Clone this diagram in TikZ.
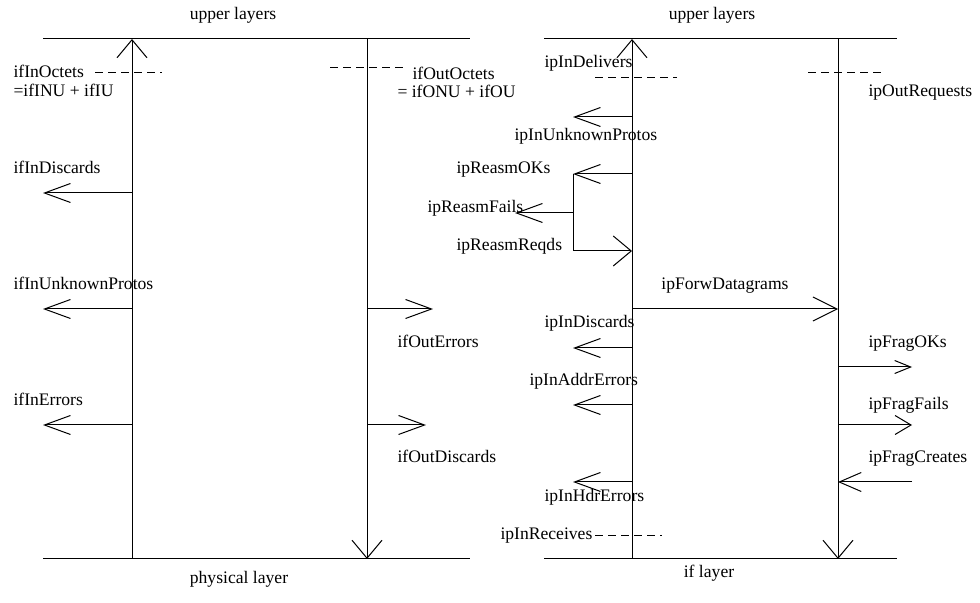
\documentclass[tikz,border=0pt]{standalone}
\usepackage{fontspec}
\setmainfont{Liberation Serif}
\usetikzlibrary{arrows.meta}

\begin{document}
\begin{tikzpicture}[
        x=0.5pt, y=-0.5pt,
        line width=0.5pt,
        font=\fontsize{8.8}{10}\selectfont,
        % Styles
        flow/.style={
            -{Straight Barb[length=9pt,width=15pt]}
          },
        counter/.style={
            -{Straight Barb[length=13pt,width=9.5pt]}
          },
        probe/.style={
            dash pattern=on 4pt off 2.5pt
          },
        lbl/.style={
            anchor=base west,
            inner sep=0pt
          },
        title/.style={
            anchor=base,
            inner sep=0pt
          }
      ]
      \useasboundingbox (0,0) rectangle (980,603);

      % Interface layer (left)
      \coordinate (ifTopL) at (43,39);
      \coordinate (ifTopR) at (470,39);
      \coordinate (ifBotL) at (43,559);
      \coordinate (ifBotR) at (470,559);
      \coordinate (ifInTop) at (132,39);
      \coordinate (ifInBot) at (132,559);
      \coordinate (ifOutTop) at (367,39);
      \coordinate (ifOutBot) at (367,559);

      \draw (ifTopL) -- (ifTopR);
      \draw (ifBotL) -- (ifBotR);
      \draw[flow] (ifInBot) -- (ifInTop);
      \draw[flow] (ifOutTop) -- (ifOutBot);

      \node[title] (ifUpper) at (233,20) {upper layers};
      \node[title] (ifPhys) at (239,584) {physical layer};

      % Counters leaving the input path
      \foreach \name/\y in {ifInDisc/193, ifInUnk/309, ifInErr/425} {
          \coordinate (\name-s) at (132,\y);
          \coordinate (\name-e) at (43,\y);
          \draw[counter] (\name-s) -- (\name-e);
        }
      % Counters leaving the output path
      \foreach \name/\y/\x in {ifOutErr/309/433, ifOutDisc/425/426} {
          \coordinate (\name-s) at (367,\y);
          \coordinate (\name-e) at (\x,\y);
          \draw[counter] (\name-s) -- (\name-e);
        }

      % Octet probes
      \coordinate (ifInOctA) at (95,73);
      \coordinate (ifInOctB) at (162,73);
      \coordinate (ifOutOctA) at (330,68);
      \coordinate (ifOutOctB) at (403,68);
      \draw[probe] (ifInOctA) -- (ifInOctB);
      \draw[probe] (ifOutOctA) -- (ifOutOctB);

      \node[lbl] (ifInOctets) at (13,78) {ifInOctets};
      \node[lbl] (ifInSum) at (13,97) {=ifINU + ifIU};
      \node[lbl] (ifOutOctets) at (412,80) {ifOutOctets};
      \node[lbl] (ifOutSum) at (397,98) {= ifONU + ifOU};
      \node[lbl] (ifInDiscards) at (13,174) {ifInDiscards};
      \node[lbl] (ifInUnknownProtos) at (13,290) {ifInUnknownProtos};
      \node[lbl] (ifInErrors) at (13,406) {ifInErrors};
      \node[lbl] (ifOutErrors) at (397,348) {ifOutErrors};
      \node[lbl] (ifOutDiscards) at (397,463) {ifOutDiscards};

      % IP layer (right)
      \coordinate (ipTopL) at (544,39);
      \coordinate (ipTopR) at (897,39);
      \coordinate (ipBotL) at (544,559);
      \coordinate (ipBotR) at (897,559);
      \coordinate (ipInTop) at (632,39);
      \coordinate (ipInBot) at (632,559);
      \coordinate (ipOutTop) at (838,39);
      \coordinate (ipOutBot) at (838,559);

      \draw (ipTopL) -- (ipTopR);
      \draw (ipBotL) -- (ipBotR);
      \draw[flow] (ipInBot) -- (ipInTop);
      \draw[flow] (ipOutTop) -- (ipOutBot);

      \node[title] (ipUpper) at (712,20) {upper layers};
      \node[title] (ipIfLayer) at (709,578) {if layer};

      % Counters leaving the input path
      \foreach \name/\y in {ipInUnk/117, ipReasmOK/174, ipInDisc/348, ipInAddr/405, ipInHdr/482} {
          \coordinate (\name-s) at (632,\y);
          \coordinate (\name-e) at (573,\y);
          \draw[counter] (\name-s) -- (\name-e);
        }

      % Reassembly
      \coordinate (ipReasmReq) at (573,251);
      \coordinate (ipReasmJoin) at (573,213);
      \coordinate (ipReasmReq-e) at (632,251);
      \coordinate (ipReasmFail-e) at (515,213);
      \draw (ipReasmOK-e) -- (ipReasmReq);
      \draw[flow] (ipReasmReq) -- (ipReasmReq-e);
      \draw[counter] (ipReasmJoin) -- (ipReasmFail-e);

      % Forwarding
      \coordinate (ipForw-s) at (632,309);
      \coordinate (ipForw-e) at (838,309);
      \draw[-{Straight Barb[length=12pt,width=12pt]}] (ipForw-s) -- (ipForw-e);

      % Fragmentation
      \coordinate (ipFragOK-s) at (838,367);
      \coordinate (ipFragOK-e) at (912,367);
      \coordinate (ipFragFail-s) at (838,425);
      \coordinate (ipFragFail-e) at (912,425);
      \coordinate (ipFragCre-s) at (912,482);
      \coordinate (ipFragCre-e) at (838,482);
      \draw[-{Straight Barb[length=8pt,width=6.5pt]}] (ipFragOK-s) -- (ipFragOK-e);
      \draw[-{Straight Barb[length=8pt,width=9.5pt]}] (ipFragFail-s) -- (ipFragFail-e);
      \draw[-{Straight Barb[length=11pt,width=9.5pt]}] (ipFragCre-s) -- (ipFragCre-e);

      % Probes
      \coordinate (ipDelA) at (595,78);
      \coordinate (ipDelB) at (677,78);
      \coordinate (ipReqA) at (808,73);
      \coordinate (ipReqB) at (882,73);
      \coordinate (ipRecA) at (595,536);
      \coordinate (ipRecB) at (662,536);
      \draw[probe] (ipDelA) -- (ipDelB);
      \draw[probe] (ipReqA) -- (ipReqB);
      \draw[probe] (ipRecA) -- (ipRecB);

      \node[lbl] (ipInDelivers) at (544,68) {ipInDelivers};
      \node[lbl] (ipOutRequests) at (868,97) {ipOutRequests};
      \node[lbl] (ipInUnknownProtos) at (514,141) {ipInUnknownProtos};
      \node[lbl] (ipReasmOKs) at (456,174) {ipReasmOKs};
      \node[lbl] (ipReasmFails) at (427,213) {ipReasmFails};
      \node[lbl] (ipReasmReqds) at (456,251) {ipReasmReqds};
      \node[title] (ipForwDatagrams) at (725,290) {ipForwDatagrams};
      \node[lbl] (ipInDiscards) at (544,328) {ipInDiscards};
      \node[lbl] (ipInAddrErrors) at (529,386) {ipInAddrErrors};
      \node[lbl] (ipInHdrErrors) at (544,502) {ipInHdrErrors};
      \node[lbl] (ipInReceives) at (500,540) {ipInReceives};
      \node[lbl] (ipFragOKs) at (868,348) {ipFragOKs};
      \node[lbl] (ipFragFails) at (868,410) {ipFragFails};
      \node[lbl] (ipFragCreates) at (868,463) {ipFragCreates};

    \end{tikzpicture}
\end{document}
